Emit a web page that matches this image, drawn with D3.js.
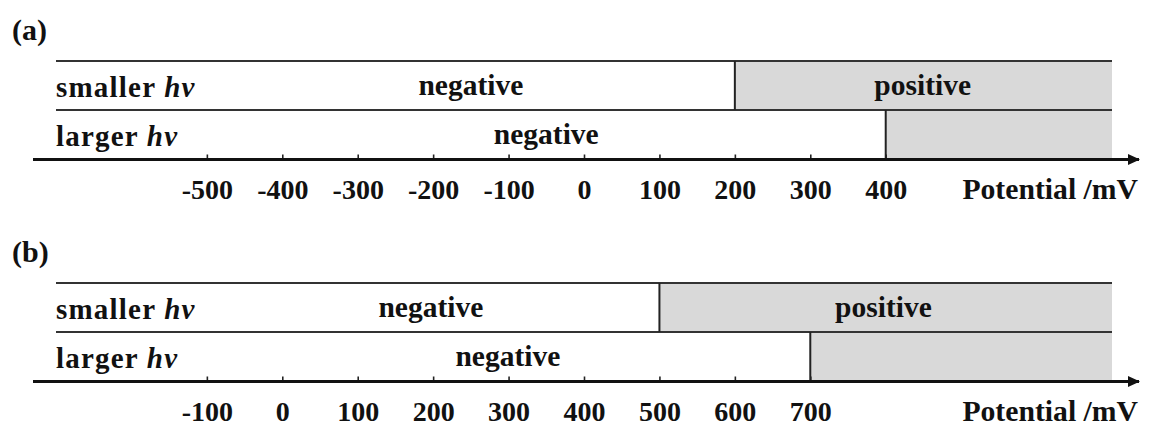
<!DOCTYPE html>
<html>
<head>
<meta charset="utf-8">
<script src="https://cdn.jsdelivr.net/npm/d3@7"></script>
<style>
  html, body { margin: 0; padding: 0; background: #fff; }
  svg text { font-family: "Liberation Serif", "Times New Roman", serif; font-weight: bold; fill: #111; }
</style>
</head>
<body>
<svg id="chart" width="1151" height="431"></svg>
<script>
// Panel letters
const panels = ["(a)", "(b)"];
// Potential range covered by each panel's rows (mV)
const domains = [[-700, 700], [-300, 1100]];
// Labelled tick values on the potential axis (mV)
const ticksA = [-500, -400, -300, -200, -100, 0, 100, 200, 300, 400];
const ticksB = [-100, 0, 100, 200, 300, 400, 500, 600, 700];
// Row names and the potential where the signal turns positive (mV)
const rows = ["smaller", "larger"];
const thresholdsA = [200, 400];
const thresholdsB = [500, 700];
// Anchor potentials for the "negative" / "positive" region labels (mV)
const negLabelA = [-150, -50];
const negLabelB = [197, 299];
const posLabelA = [449];
const posLabelB = [797];
const axisTitle = "Potential /mV";

const panelData = [
  { name: panels[0], domain: domains[0], ticks: ticksA, thr: thresholdsA, neg: negLabelA, pos: posLabelA },
  { name: panels[1], domain: domains[1], ticks: ticksB, thr: thresholdsB, neg: negLabelB, pos: posLabelB }
];

const svg = d3.select("#chart");

svg.append("defs").append("marker")
  .attr("id", "arrow")
  .attr("viewBox", "0 0 12 12")
  .attr("refX", 11).attr("refY", 6)
  .attr("markerWidth", 12).attr("markerHeight", 12)
  .attr("markerUnits", "userSpaceOnUse")
  .attr("orient", "auto")
  .append("path")
  .attr("d", "M0,0.5 L12,6 L0,11.5 Z")
  .attr("fill", "#111");

const rowTop = 61, rowH = 49;     // each panel: two stacked rows
const axisY = 159.5;
const panelOffset = 222;
const tickFont = 28;
const labelFont = 29.5;

panelData.forEach((p, pi) => {
  const g = svg.append("g").attr("transform", `translate(0,${pi * panelOffset})`);
  const x = d3.scaleLinear().domain(p.domain).range([56, 1112]);
  const [x0, x1] = x.range();

  // panel letter
  g.append("text").attr("x", 12).attr("y", 40)
    .attr("font-size", 30).text(p.name);

  // shaded positive regions
  p.thr.forEach((t, i) => {
    const yTop = rowTop + i * rowH;
    const yBot = i === rows.length - 1 ? axisY : rowTop + (i + 1) * rowH;
    g.append("rect")
      .attr("x", x(t)).attr("y", yTop)
      .attr("width", x1 - x(t)).attr("height", yBot - yTop)
      .attr("fill", "#d9d9d9");
  });

  // horizontal row borders
  [rowTop, rowTop + rowH].forEach(y => {
    g.append("line").attr("x1", x0).attr("x2", x1).attr("y1", y).attr("y2", y)
      .attr("stroke", "#333").attr("stroke-width", 2);
  });

  // vertical boundary at each threshold
  p.thr.forEach((t, i) => {
    const yTop = rowTop + i * rowH;
    const yBot = i === rows.length - 1 ? axisY : rowTop + (i + 1) * rowH;
    g.append("line").attr("x1", x(t)).attr("x2", x(t)).attr("y1", yTop).attr("y2", yBot)
      .attr("stroke", "#222").attr("stroke-width", 2);
  });

  // row names
  rows.forEach((r, i) => {
    const t = g.append("text").attr("x", x0).attr("y", rowTop + i * rowH + 36)
      .attr("font-size", 29).attr("letter-spacing", 1.2);
    t.append("tspan").text(r + " ");
    t.append("tspan").attr("font-style", "italic").text("hv");
  });

  // region labels
  p.neg.forEach((v, i) => {
    g.append("text").attr("x", x(v)).attr("y", rowTop + i * rowH + 34)
      .attr("text-anchor", "middle").attr("font-size", labelFont).text("negative");
  });
  p.pos.forEach((v, i) => {
    g.append("text").attr("x", x(v)).attr("y", rowTop + i * rowH + 34)
      .attr("text-anchor", "middle").attr("font-size", labelFont).text("positive");
  });

  // axis with upward ticks
  const axis = d3.axisBottom(x).tickValues(p.ticks).tickSizeInner(-5).tickSizeOuter(0)
    .tickFormat(d3.format("d"));
  const ag = g.append("g").attr("transform", `translate(0,${axisY})`).call(axis);
  ag.select(".domain").remove();
  ag.selectAll(".tick line").attr("stroke", "#222").attr("stroke-width", 1.6);
  ag.selectAll(".tick text")
    .attr("y", 39).attr("dy", null)
    .attr("font-size", tickFont)
    .attr("font-family", "Liberation Serif, Times New Roman, serif")
    .attr("font-weight", "bold").attr("fill", "#111")
    .text(d => String(d).replace("\u2212", "-"));

  // axis line with arrow
  g.append("line")
    .attr("x1", 33).attr("x2", 1139).attr("y1", axisY).attr("y2", axisY)
    .attr("stroke", "#111").attr("stroke-width", 3)
    .attr("marker-end", "url(#arrow)");

  // axis title
  g.append("text").attr("x", 1138).attr("y", axisY + 39)
    .attr("text-anchor", "end").attr("font-size", 29.7).text(axisTitle);
});
</script>
</body>
</html>
